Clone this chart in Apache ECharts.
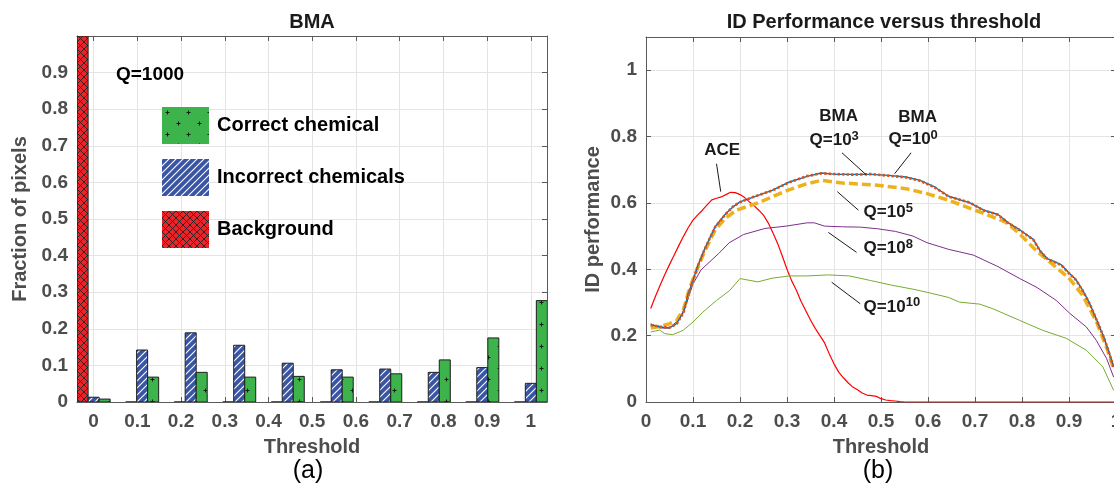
<!DOCTYPE html>
<html><head><meta charset="utf-8">
<script src="https://cdn.jsdelivr.net/npm/echarts@6/dist/echarts.min.js"></script>
<style>html,body{margin:0;padding:0;background:#fff;overflow:hidden}#c{width:1114px;height:490px}</style>
</head><body><div id="c"></div>
<script>
// ---------- data: panel (a) ----------
const binCenters     = [0, 0.111, 0.222, 0.333, 0.444, 0.556, 0.667, 0.778, 0.889, 1];
const correctFrac    = [0.008, 0.068, 0.081, 0.068, 0.070, 0.068, 0.077, 0.115, 0.175, 0.277];
const incorrectFrac  = [0.013, 0.142, 0.189, 0.155, 0.106, 0.088, 0.090, 0.081, 0.094, 0.051];
const backgroundFrac = [1.0, 0, 0, 0, 0, 0, 0, 0, 0, 0];
const thresholdTicks = [0, 0.1, 0.2, 0.3, 0.4, 0.5, 0.6, 0.7, 0.8, 0.9, 1];
const fractionTicks  = [0, 0.1, 0.2, 0.3, 0.4, 0.5, 0.6, 0.7, 0.8, 0.9];
const perfTicks      = [0, 0.2, 0.4, 0.6, 0.8, 1];

// ---------- data: panel (b) ----------
const aceX = [0.01,0.02,0.03,0.04,0.05,0.06,0.07,0.08,0.09,0.10,0.11,0.12,0.13,0.14,0.15,0.16,0.17,0.18,0.19,0.20,0.21,0.22,0.23,0.24,0.25,0.26,0.27,0.28,0.29,0.30,0.31,0.32,0.33,0.34,0.35,0.36,0.37,0.38,0.39,0.40,0.41,0.42,0.43,0.44,0.45,0.46,0.47,0.48,0.49,0.50,0.51,0.52,0.53,0.54,0.55,0.60,0.70,0.80,0.90,1.00];
const aceY = [0.282,0.318,0.352,0.384,0.414,0.443,0.472,0.500,0.526,0.548,0.564,0.578,0.594,0.609,0.614,0.618,0.625,0.632,0.631,0.625,0.616,0.603,0.592,0.578,0.563,0.540,0.510,0.478,0.440,0.400,0.365,0.337,0.303,0.275,0.247,0.222,0.200,0.178,0.145,0.115,0.090,0.073,0.058,0.045,0.037,0.027,0.021,0.019,0.017,0.010,0.006,0.004,0.003,0.001,0,0,0,0,0,0];

const bmaQ0X = [0.01,0.03,0.05,0.065,0.08,0.09,0.10,0.11,0.125,0.147,0.17,0.185,0.20,0.23,0.268,0.305,0.343,0.373,0.403,0.441,0.478,0.516,0.553,0.583,0.614,0.644,0.689,0.719,0.749,0.771,0.794,0.824,0.839,0.854,0.869,0.884,0.899,0.914,0.929,0.944,0.959,0.974,0.986,0.995];
const bmaQ0Y = [0.233,0.226,0.223,0.236,0.272,0.326,0.366,0.410,0.462,0.528,0.568,0.588,0.603,0.618,0.638,0.663,0.680,0.690,0.686,0.686,0.686,0.683,0.678,0.668,0.648,0.620,0.600,0.578,0.565,0.540,0.520,0.490,0.455,0.432,0.423,0.413,0.390,0.370,0.337,0.297,0.247,0.196,0.146,0.105];
const bmaQ3Y = [0.232,0.227,0.224,0.235,0.270,0.325,0.365,0.409,0.461,0.527,0.567,0.589,0.602,0.619,0.637,0.662,0.681,0.689,0.687,0.685,0.687,0.682,0.677,0.667,0.647,0.619,0.601,0.577,0.564,0.539,0.519,0.489,0.454,0.431,0.422,0.412,0.389,0.369,0.336,0.296,0.246,0.195,0.145,0.104];

const bmaQ5X = [0.01,0.03,0.05,0.065,0.08,0.09,0.10,0.125,0.147,0.17,0.192,0.238,0.268,0.305,0.343,0.373,0.418,0.455,0.493,0.553,0.598,0.644,0.719,0.764,0.794,0.831,0.869,0.899,0.929,0.959,0.982,0.995];
const bmaQ5Y = [0.223,0.228,0.236,0.245,0.280,0.330,0.370,0.455,0.518,0.555,0.578,0.600,0.618,0.640,0.658,0.668,0.660,0.657,0.653,0.643,0.628,0.608,0.568,0.543,0.508,0.455,0.410,0.375,0.322,0.240,0.156,0.100];

const bmaQ8X = [0.01,0.029,0.05,0.072,0.086,0.10,0.117,0.155,0.177,0.208,0.253,0.298,0.343,0.358,0.380,0.418,0.456,0.493,0.531,0.568,0.598,0.644,0.696,0.749,0.794,0.832,0.873,0.901,0.937,0.958,0.980,0.995];
const bmaQ8Y = [0.236,0.223,0.223,0.251,0.296,0.356,0.398,0.448,0.480,0.505,0.523,0.530,0.540,0.540,0.530,0.528,0.527,0.522,0.514,0.500,0.480,0.460,0.443,0.408,0.373,0.345,0.306,0.268,0.226,0.186,0.131,0.075];

const bmaQ10X = [0.01,0.02,0.029,0.04,0.057,0.079,0.10,0.121,0.150,0.178,0.20,0.238,0.268,0.305,0.343,0.388,0.433,0.478,0.523,0.568,0.606,0.644,0.667,0.710,0.738,0.795,0.844,0.894,0.937,0.972,0.995];
const bmaQ10Y = [0.211,0.214,0.217,0.206,0.203,0.216,0.241,0.271,0.306,0.336,0.372,0.362,0.373,0.380,0.380,0.383,0.380,0.366,0.352,0.340,0.328,0.315,0.301,0.295,0.281,0.246,0.216,0.192,0.156,0.106,0.035];

// ---------- annotation text and anchor points (data coords of panel b) ----------
const annoTexts = ['ACE', 'BMA', 'Q=10{s|3}', 'BMA', 'Q=10{s|0}', 'Q=10{s|5}', 'Q=10{s|8}', 'Q=10{s|10}'];
const annoAt    = [[0.162,0.758],[0.410,0.861],[0.348,0.788],[0.578,0.859],[0.516,0.791],[0.463,0.571],[0.463,0.462],[0.463,0.286]];
const annoAlign = ['center','center','left','center','left','left','left','left'];
const leaderFrom = [[0.150,0.718],[0.417,0.751],[0.564,0.751],[0.407,0.634],[0.388,0.511],[0.395,0.361]];
const leaderTo   = [[0.159,0.634],[0.469,0.684],[0.529,0.688],[0.452,0.578],[0.448,0.451],[0.456,0.296]];

// ---------- helpers ----------
const FONT = "'Liberation Sans', Arial, Helvetica, sans-serif";
const LABEL_GRAY = '#4d4d4d';
const AXIS_GRAY = '#5a5a5a';
const GRID_GRAY = '#e4e4e4';
const zip = (a, b) => a.map((v, i) => [v, b[i]]);

function makePattern(kind) {
  const c = document.createElement('canvas');
  const ctx = c.getContext('2d');
  if (kind === 'plus') {
    c.width = 21; c.height = 22;
    ctx.fillStyle = '#3cb44b'; ctx.fillRect(0, 0, 21, 22);
    ctx.strokeStyle = '#1a1a1a'; ctx.lineWidth = 1;
    const plus = (x, y) => { ctx.beginPath(); ctx.moveTo(x - 2, y); ctx.lineTo(x + 2, y); ctx.moveTo(x, y - 2); ctx.lineTo(x, y + 2); ctx.stroke(); };
    plus(5.5, 5.5); plus(16.5, 16.5);
  } else if (kind === 'diag') {
    c.width = 7; c.height = 7;
    ctx.fillStyle = '#3a55a6'; ctx.fillRect(0, 0, 7, 7);
    ctx.strokeStyle = '#ffffff'; ctx.lineWidth = 1.1;
    ctx.beginPath();
    ctx.moveTo(-1, 8); ctx.lineTo(8, -1);
    ctx.moveTo(-1, 1); ctx.lineTo(1, -1);
    ctx.moveTo(6, 8); ctx.lineTo(8, 6);
    ctx.stroke();
  } else {
    c.width = 7; c.height = 7;
    ctx.fillStyle = '#ec2328'; ctx.fillRect(0, 0, 7, 7);
    ctx.strokeStyle = '#222222'; ctx.lineWidth = 0.9;
    ctx.beginPath();
    ctx.moveTo(-1, -1); ctx.lineTo(8, 8);
    ctx.moveTo(-1, 8); ctx.lineTo(8, -1);
    ctx.stroke();
  }
  return { image: c, repeat: 'repeat' };
}
const patCorrect = makePattern('plus');
const patIncorrect = makePattern('diag');
const patBackground = makePattern('cross');

const BAR_W = 0.0252;
function barSeries(name, values, offset, pattern) {
  return {
    type: 'custom', name, xAxisIndex: 0, yAxisIndex: 0,
    itemStyle: { color: pattern },
    data: zip(binCenters, values),
    clip: true,
    renderItem: function (params, api) {
      const x = api.value(0), y = api.value(1);
      const p0 = api.coord([x + offset - BAR_W / 2, y]);
      const p1 = api.coord([x + offset + BAR_W / 2, 0]);
      return {
        type: 'rect',
        shape: { x: p0[0], y: p0[1], width: p1[0] - p0[0], height: p1[1] - p0[1] },
        style: { fill: pattern, stroke: '#1e1e1e', lineWidth: y === 0 ? 1.6 : 1 }
      };
    }
  };
}

const fmt = v => Math.abs(v) < 1e-9 ? '0' : (Math.abs(v - 1) < 1e-9 ? '1' : v.toFixed(1));
const labelStyle = { fontFamily: FONT, fontSize: 19, fontWeight: 'bold', color: LABEL_GRAY };
const nameStyle = { fontFamily: FONT, fontSize: 20, fontWeight: 'bold', color: LABEL_GRAY };

function mainX(grid, min, max, ticks, name) {
  return {
    type: 'value', gridIndex: grid, min, max, position: 'bottom',
    name, nameLocation: 'middle', nameGap: 35, nameTextStyle: nameStyle,
    axisLine: { show: true, onZero: false, lineStyle: { color: AXIS_GRAY, width: 1 } },
    axisTick: { show: true, inside: true, length: 5, customValues: ticks, lineStyle: { color: AXIS_GRAY } },
    axisLabel: { show: true, margin: 10, customValues: ticks, formatter: fmt, hideOverlap: false, ...labelStyle },
    splitLine: { show: true, lineStyle: { color: GRID_GRAY, width: 1 } }
  };
}
function mirrorX(grid, min, max, ticks) {
  return {
    type: 'value', gridIndex: grid, min, max, position: 'top',
    axisLine: { show: true, onZero: false, lineStyle: { color: AXIS_GRAY, width: 1 } },
    axisTick: { show: true, inside: true, length: 5, customValues: ticks, lineStyle: { color: AXIS_GRAY } },
    axisLabel: { show: false }, splitLine: { show: false }
  };
}
function mainY(grid, min, max, ticks, name, gap) {
  return {
    type: 'value', gridIndex: grid, min, max, position: 'left',
    name, nameLocation: 'middle', nameGap: gap, nameTextStyle: nameStyle,
    axisLine: { show: true, onZero: false, lineStyle: { color: AXIS_GRAY, width: 1 } },
    axisTick: { show: true, inside: true, length: 5, customValues: ticks, lineStyle: { color: AXIS_GRAY } },
    axisLabel: { show: true, margin: 9, customValues: ticks, formatter: fmt, ...labelStyle },
    splitLine: { show: true, lineStyle: { color: GRID_GRAY, width: 1 } }
  };
}
function mirrorY(grid, min, max, ticks) {
  return {
    type: 'value', gridIndex: grid, min, max, position: 'right',
    axisLine: { show: true, onZero: false, lineStyle: { color: AXIS_GRAY, width: 1 } },
    axisTick: { show: true, inside: true, length: 5, customValues: ticks, lineStyle: { color: AXIS_GRAY } },
    axisLabel: { show: false }, splitLine: { show: false }
  };
}

function lineSeries(name, xs, ys, color, width, type, z) {
  return {
    type: 'line', name, xAxisIndex: 2, yAxisIndex: 2, data: zip(xs, ys),
    showSymbol: false, symbol: 'none', smooth: false, z,
    lineStyle: { color, width, type }
  };
}

const chart = echarts.init(document.getElementById('c'), null, { renderer: 'canvas' });
const option = {
  animation: false,
  backgroundColor: '#ffffff',
  textStyle: { fontFamily: FONT },
  grid: [
    { left: 77, top: 36, width: 470, height: 366, containLabel: false, outerBoundsMode: 'none' },
    { left: 646, top: 37, width: 470, height: 365, containLabel: false, outerBoundsMode: 'none' }
  ],
  xAxis: [
    mainX(0, -0.038, 1.037, thresholdTicks, 'Threshold'),
    mirrorX(0, -0.038, 1.037, thresholdTicks),
    mainX(1, 0, 1, thresholdTicks, 'Threshold'),
    mirrorX(1, 0, 1, thresholdTicks)
  ],
  yAxis: [
    mainY(0, 0, 1, fractionTicks, 'Fraction of pixels', 47),
    mirrorY(0, 0, 1, fractionTicks),
    mainY(1, 0, 1.1, perfTicks, 'ID performance', 43),
    mirrorY(1, 0, 1.1, perfTicks)
  ],
  legend: {
    data: ['Correct chemical', 'Incorrect chemicals', 'Background'],
    orient: 'vertical', left: 162, top: 107, itemWidth: 47, itemHeight: 37, itemGap: 15,
    icon: 'rect', selectedMode: false, padding: 0,
    textStyle: { fontFamily: FONT, fontSize: 20, fontWeight: 'bold', color: '#000', padding: [0, 0, 0, 3] }
  },
  series: [
    barSeries('Background', backgroundFrac, -BAR_W, patBackground),
    barSeries('Incorrect chemicals', incorrectFrac, 0, patIncorrect),
    barSeries('Correct chemical', correctFrac, BAR_W, patCorrect),
    lineSeries('ACE', aceX, aceY, '#ff0000', 1.2, 'solid', 2),
    lineSeries('Q=1e10', bmaQ10X, bmaQ10Y, '#77ac30', 1, 'solid', 2),
    lineSeries('Q=1e8', bmaQ8X, bmaQ8Y, '#7e2f8e', 1, 'solid', 2),
    lineSeries('Q=1e5', bmaQ5X, bmaQ5Y, '#edb120', 3.5, [9, 4], 3),
    lineSeries('Q=1e0', bmaQ0X, bmaQ0Y, '#0072bd', 1.4, 'solid', 4),
    lineSeries('Q=1e3', bmaQ0X, bmaQ3Y, '#d95319', 2.6, [2.5, 2], 5)
  ]
};
chart.setOption(option);

// ---------- texts and annotations ----------
const g = [];
const txt = (x, y, text, size, weight, color, align) => ({
  type: 'text', x, y, z: 100,
  style: { text, fontFamily: FONT, fontSize: size, fontWeight: weight, fill: color, align: align || 'center', verticalAlign: 'middle' }
});
g.push(txt(312, 22, 'BMA', 20, 'bold', '#1a1a1a'));
g.push(txt(884, 22, 'ID Performance versus threshold', 20, 'bold', '#1a1a1a'));
g.push(txt(116, 75, 'Q=1000', 19, 'bold', '#000', 'left'));
g.push(txt(308, 471, '(a)', 25, 'normal', '#000'));
g.push(txt(878, 471, '(b)', 25, 'normal', '#000'));

const toPx = p => chart.convertToPixel({ xAxisIndex: 2, yAxisIndex: 2 }, p);
annoTexts.forEach((t, i) => {
  const p = toPx(annoAt[i]);
  g.push({
    type: 'text', x: p[0], y: p[1], z: 100,
    style: {
      text: t, fontFamily: FONT, fontSize: 17, fontWeight: 'bold', fill: '#1a1a1a',
      align: annoAlign[i], verticalAlign: 'middle',
      rich: { s: { fontFamily: FONT, fontSize: 13, fontWeight: 'bold', fill: '#1a1a1a', padding: [0, 0, 9, 0] } }
    }
  });
});
leaderFrom.forEach((a, i) => {
  const p0 = toPx(a), p1 = toPx(leaderTo[i]);
  g.push({ type: 'line', z: 100, shape: { x1: p0[0], y1: p0[1], x2: p1[0], y2: p1[1] }, style: { stroke: '#1a1a1a', lineWidth: 1 } });
});
chart.setOption({ graphic: g });
</script></body></html>
